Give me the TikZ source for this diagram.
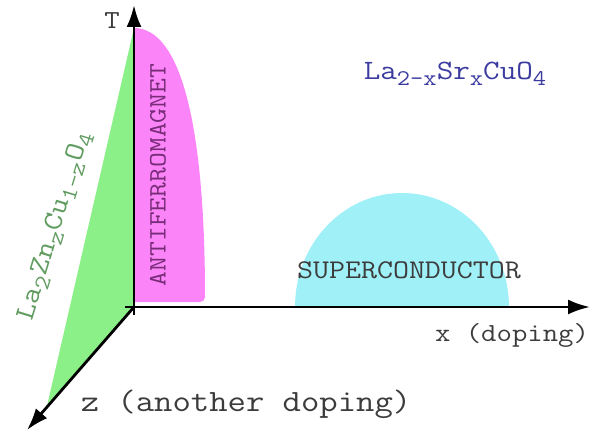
\documentclass[tikz,border=0pt]{standalone}
\usepackage{fontspec}
\setmonofont[FakeStretch=1.15]{Latin Modern Mono}
\usepackage{graphicx}
\usepackage{xcolor}
\usepackage{tikz}
\usetikzlibrary{arrows.meta, positioning}

\definecolor{afmpink}{RGB}{250,132,248}
\definecolor{scyan}{RGB}{160,240,248}
\definecolor{zngreen}{RGB}{140,240,136}
\definecolor{afmtext}{RGB}{120,44,120}
\definecolor{lsctext}{RGB}{60,60,160}
\definecolor{zntext}{RGB}{96,156,96}
\definecolor{axtext}{RGB}{60,60,60}

\newcommand{\subs}[1]{\raisebox{-0.5ex}{\scalebox{0.8}{#1}}}

\begin{document}
\begin{tikzpicture}[
    x=1pt, y=1pt,
    axis/.style={line width=2.8pt, -{Latex[length=22pt, width=15pt]}},
    txt/.style={font=\fontsize{#1}{#1}\selectfont\ttfamily, inner sep=0pt},
]
\useasboundingbox (0,0) rectangle (605,432);

% Axes end points
\coordinate (O) at (134,125);
\coordinate (Tstart) at (134,117);
\coordinate (Ttip) at (134,427);
\coordinate (Xstart) at (125,125);
\coordinate (Xtip) at (590,125);
\coordinate (Ztip) at (27,2);

% Phases
\fill[zngreen] (134,404) -- (O) -- (47,26) -- cycle;
\fill[afmpink] (134,130) -- (134,404) .. controls (180,404) and (205,310) .. (205,135)
    arc[start angle=0, end angle=-90, radius=5] -- cycle;
\fill[scyan] (295,125) arc[start angle=180, end angle=0, x radius=107, y radius=114] -- cycle;

% Axes
\draw[axis] (Tstart) -- (Ttip);
\draw[axis] (Xstart) -- (Xtip);
\draw[axis] (O) -- (Ztip);

% Labels
\node[txt=26, text=axtext] (Tlab) at (112,411) {T};
\node[txt=26, text=axtext] (xlab) at (512,97) {x (doping)};
\node[txt=31, text=axtext] (zlab) at (246,28) {z (another doping)};
\node[txt=27, text=axtext] (sclab) at (409,162) {SUPERCONDUCTOR};
\node[txt=25, text=afmtext, rotate=90] (afmlab) at (158,257) {ANTIFERROMAGNET};
\node[txt=28, text=lsctext] (lsco) at (455,358) {La\subs{2-x}Sr\subs{x}CuO\subs{4}};
\node[txt=28, text=zntext, rotate=73] (lzco) at (55,206) {La\subs{2}Zn\subs{z}Cu\subs{1-z}O\subs{4}};

\end{tikzpicture}
\end{document}
